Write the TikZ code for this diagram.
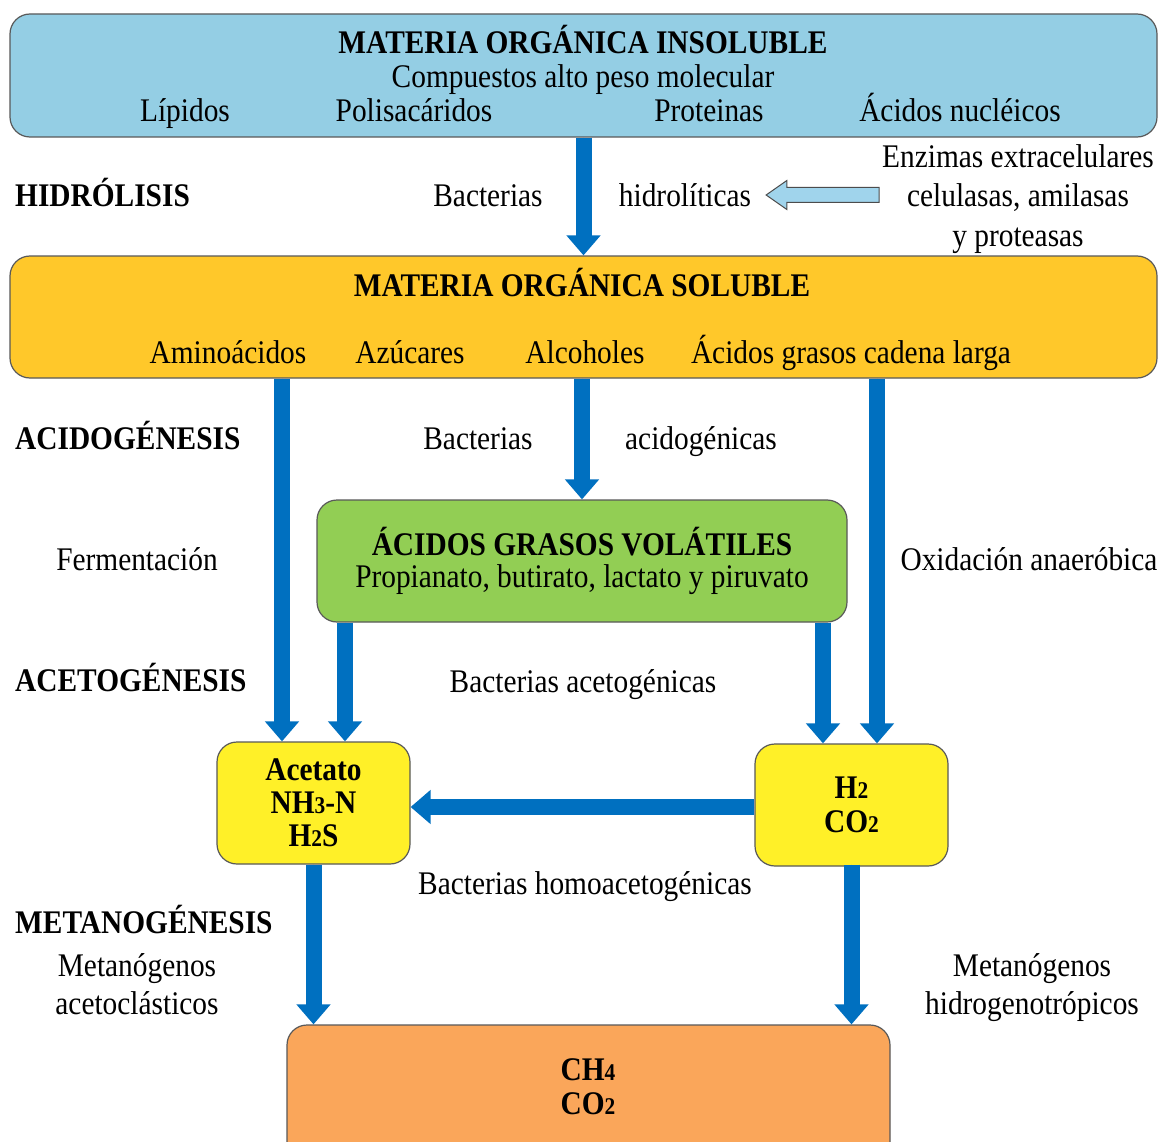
\documentclass[tikz,border=0pt]{standalone}
\usepackage{fontspec}
\setmainfont{Liberation Serif}[FakeStretch=0.89]
\usetikzlibrary{arrows.meta,shapes.arrows}

\definecolor{insolblue}{RGB}{148,206,228}
\definecolor{solgold}{RGB}{255,200,42}
\definecolor{agvgreen}{RGB}{146,206,84}
\definecolor{prodyellow}{RGB}{255,240,40}
\definecolor{gasorange}{RGB}{250,166,90}
\definecolor{flowblue}{RGB}{0,112,192}
\definecolor{enzblue}{RGB}{160,212,236}

\newcommand{\idx}[1]{{\fontsize{24}{24}\selectfont #1}}

\begin{document}
\begin{tikzpicture}[x=1pt,y=-1pt,>={Triangle[width=33pt,length=20pt]},
	font=\fontsize{33}{33}\selectfont]
	\tikzstyle{box}=[draw=black!65,line width=1.2pt,rounded corners=20pt,inner sep=0pt,align=center]
	\tikzstyle{flow}=[->,draw=flowblue,fill=flowblue,line width=16pt]
	\tikzstyle{phase}=[anchor=mid west,inner sep=0pt,font=\fontsize{33}{33}\selectfont\bfseries]
	\tikzstyle{lbl}=[inner sep=0pt,anchor=mid]
	\tikzstyle{lines}=[inner sep=0pt,align=center]
	
	\clip (0,0) rectangle (1162,1142);
	\fill[white] (0,0) rectangle (1162,1142);
	
	% boxes
	\node[box,fill=insolblue,minimum width=1147pt,minimum height=123pt] (insol) at (583.5,75.5) {};
	\node[box,fill=solgold,minimum width=1147pt,minimum height=122pt]   (sol)   at (583.5,317) {};
	\node[box,fill=agvgreen,minimum width=530pt,minimum height=122pt]   (agv)   at (582,561)
		{\textbf{ÁCIDOS GRASOS VOLÁTILES}\\[-1pt]Propianato, butirato, lactato y piruvato};
	\node[box,fill=prodyellow,minimum width=193pt,minimum height=122pt,font=\fontsize{33}{33}\selectfont\bfseries] (acet) at (313.5,803)
		{Acetato\\NH\idx{3}-N\\H\idx{2}S};
	\node[box,fill=prodyellow,minimum width=193pt,minimum height=122pt,font=\fontsize{33}{34}\selectfont\bfseries] (h2) at (851.5,805)
		{H\idx{2}\\CO\idx{2}};
	\node[box,fill=gasorange,minimum width=603pt,minimum height=145pt] (gas) at (588.5,1097.5) {};
	
	% texts in the boxes
	\node[lines,font=\fontsize{33}{34}\selectfont] (insoltitle) at (583,60)
		{\textbf{MATERIA ORGÁNICA INSOLUBLE}\\Compuestos alto peso molecular};
	\node[lbl] (lip)  at (185,119) {Lípidos};
	\node[lbl] (pol)  at (414,119) {Polisacáridos};
	\node[lbl] (prot) at (709,119) {Proteinas};
	\node[lbl] (nuc)  at (960,119) {Ácidos nucléicos};
	
	\node[lbl,font=\fontsize{33}{33}\selectfont\bfseries] (soltitle) at (582,294) {MATERIA ORGÁNICA SOLUBLE};
	\node[lbl] (amino) at (228,361) {Aminoácidos};
	\node[lbl] (azuc)  at (410,361) {Azúcares};
	\node[lbl] (alc)   at (585,361) {Alcoholes};
	\node[lbl] (agcl)  at (851,361) {Ácidos grasos cadena larga};
	
	\node[lines,font=\fontsize{33}{34}\selectfont\bfseries] (gastext) at (588,1087) {CH\idx{4}\\CO\idx{2}};
	
	% phases
	\node[phase] (hidro) at (15,204) {HIDRÓLISIS};
	\node[phase] (acido) at (15,447) {ACIDOGÉNESIS};
	\node[phase] (aceto) at (15,689) {ACETOGÉNESIS};
	\node[phase] (metano) at (15,931) {METANOGÉNESIS};
	
	% labels
	\node[lbl] (bachid)  at (488,204) {Bacterias};
	\node[lbl] (hidrol)  at (685,204) {hidrolíticas};
	\node[lines,font=\fontsize{33}{39.5}\selectfont] (enz) at (1018,199)
		{Enzimas extracelulares\\celulasas, amilasas\\y proteasas};
	\node[lbl] (bacacid) at (478,447) {Bacterias};
	\node[lbl] (acidog)  at (701,447) {acidogénicas};
	\node[lbl] (ferm)    at (137,568) {Fermentación};
	\node[lbl] (oxid)    at (1029,568) {Oxidación anaeróbica};
	\node[lbl] (bacacet) at (583,690) {Bacterias acetogénicas};
	\node[lbl] (homo)    at (585,892) {Bacterias homoacetogénicas};
	\node[lines,font=\fontsize{33}{38}\selectfont] (metac) at (137,984) {Metanógenos\\acetoclásticos};
	\node[lines,font=\fontsize{33}{38}\selectfont] (methi) at (1032,988) {Metanógenos\\hidrogenotrópicos};
	
	% enzyme arrow
	\node[single arrow,draw=black!70,line width=1pt,fill=enzblue,shape border rotate=180,
		minimum height=113pt,inner sep=7pt,single arrow head extend=7pt,
		single arrow tip angle=70] (enzarrow) at (828,195) {};
	
	% flows
	\path (insol.south) edge[flow] (sol.north);
	\path ([xshift=-31.5pt]sol.south -| acet.north) edge[flow] ([xshift=-31.5pt]acet.north);
	\path (sol.south -| agv.north) edge[flow] (agv.north);
	\path ([xshift=25.5pt]sol.south -| h2.north) edge[flow] ([xshift=25.5pt]h2.north);
	\path ([xshift=31.5pt]agv.south -| acet.north) edge[flow] ([xshift=31.5pt]acet.north);
	\path ([xshift=-28.5pt]agv.south -| h2.north) edge[flow] ([xshift=-28.5pt]h2.north);
	\path ([yshift=-2pt]h2.west) edge[flow] ([yshift=-2pt]h2.west -| acet.east);
	\path (acet.south) edge[flow] (acet.south |- gas.north);
	\path (h2.south |- acet.south) edge[flow] (h2.south |- gas.north);
	
\end{tikzpicture}
\end{document}
